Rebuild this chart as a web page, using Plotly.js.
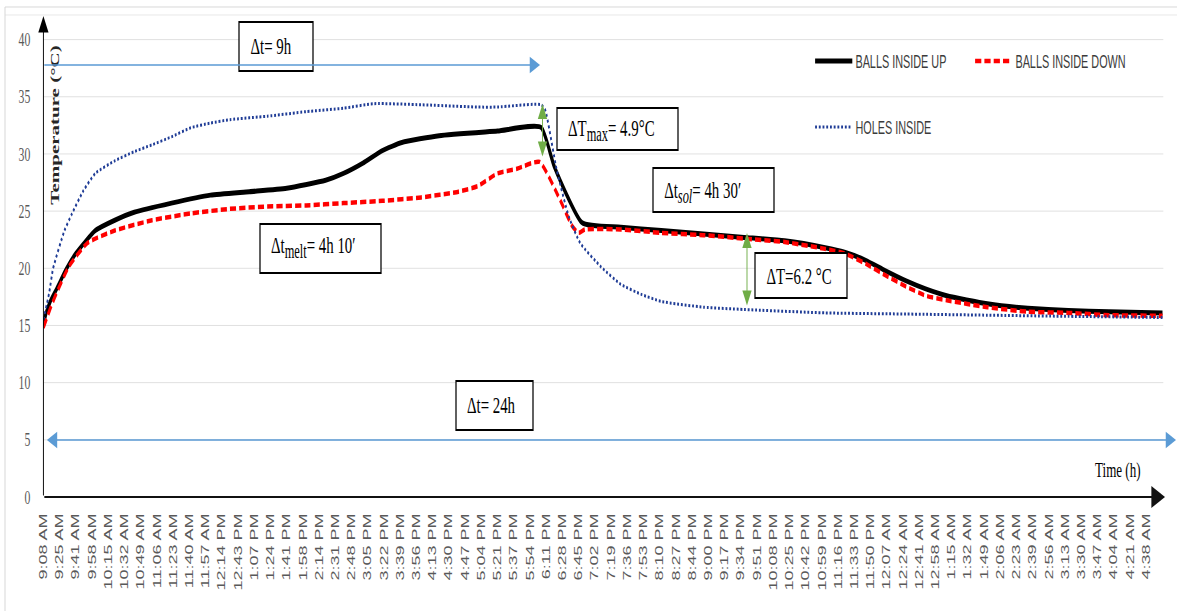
<!DOCTYPE html>
<html>
<head>
<meta charset="utf-8">
<script src="https://cdn.plot.ly/plotly-3.0.1.min.js"></script>
<style>
  html, body { margin: 0; padding: 0; overflow: hidden; background: #fff; }
  #wrap { width: 1177px; height: 611px; overflow: hidden; }
  #chart { width: 1898px; height: 611px; transform: scaleX(0.6201); transform-origin: 0 0; }
</style>
</head>
<body>
<div id="wrap"><div id="chart"></div></div>
<script>
// ---------- data (x = sample position in units of the tick-label spacing) ----------
const timeLabels = ["9:08 AM","9:25 AM","9:41 AM","9:58 AM","10:15 AM","10:32 AM","10:49 AM","11:06 AM","11:23 AM","11:40 AM","11:57 AM","12:14 PM","12:43 PM","1:07 PM","1:24 PM","1:41 PM","1:58 PM","2:14 PM","2:31 PM","2:48 PM","3:05 PM","3:22 PM","3:39 PM","3:56 PM","4:13 PM","4:30 PM","4:47 PM","5:04 PM","5:21 PM","5:37 PM","5:54 PM","6:11 PM","6:28 PM","6:45 PM","7:02 PM","7:19 PM","7:36 PM","7:53 PM","8:10 PM","8:27 PM","8:44 PM","9:00 PM","9:17 PM","9:34 PM","9:51 PM","10:08 PM","10:25 PM","10:42 PM","10:59 PM","11:16 PM","11:33 PM","11:50 PM","12:07 AM","12:24 AM","12:41 AM","12:58 AM","1:15 AM","1:32 AM","1:49 AM","2:06 AM","2:23 AM","2:39 AM","2:56 AM","3:13 AM","3:30 AM","3:47 AM","4:04 AM","4:21 AM","4:38 AM"];

const ballsUpX = [0, 0.15, 0.45, 0.85, 1.4, 2.0, 3.2, 4.4, 5.6, 7.9, 10.3, 12.7, 15.0, 17.4, 18.5, 19.7, 20.9, 22.1, 24.4, 28.0, 30.7, 31.5, 33.2, 35.6, 38.1, 40.7, 43.2, 45.7, 48.2, 49.4, 50.7, 51.9, 53.2, 54.4, 55.7, 58.2, 60.7, 63.2, 65.7, 69.0];
const ballsUpT = [15.0, 16.0, 17.2, 18.3, 19.9, 21.3, 23.3, 24.2, 24.9, 25.7, 26.4, 26.7, 27.0, 27.7, 28.3, 29.2, 30.3, 31.0, 31.6, 32.0, 32.3, 28.9, 24.0, 23.6, 23.3, 23.0, 22.7, 22.4, 21.8, 21.4, 20.7, 19.8, 18.9, 18.2, 17.6, 16.9, 16.5, 16.3, 16.2, 16.1];

const ballsDownX = [0, 0.4, 0.8, 1.55, 2.7, 4.4, 6.7, 9.1, 11.5, 13.8, 16.2, 18.5, 20.9, 23.3, 25.6, 26.8, 28.0, 29.2, 30.6, 31.85, 32.6, 33.0, 33.4, 35.6, 38.1, 40.7, 43.2, 45.7, 48.2, 49.4, 50.7, 51.9, 53.2, 54.4, 55.7, 58.2, 60.7, 63.2, 65.7, 69.0];
const ballsDownT = [14.8, 16.4, 17.8, 20.1, 22.2, 23.3, 24.2, 24.8, 25.2, 25.4, 25.5, 25.7, 25.9, 26.2, 26.7, 27.2, 28.3, 28.7, 29.3, 26.0, 23.7, 23.1, 23.4, 23.4, 23.1, 22.9, 22.6, 22.3, 21.7, 21.3, 20.4, 19.4, 18.4, 17.6, 17.2, 16.6, 16.2, 16.1, 15.9, 15.85];

const holesX = [0, 0.35, 0.6, 1.3, 1.77, 2.47, 3.2, 4.4, 5.6, 6.7, 7.9, 9.1, 10.3, 11.5, 13.8, 16.2, 18.5, 20.4, 23.3, 26.8, 28.0, 30.7, 30.95, 31.65, 32.4, 33.1, 34.4, 35.6, 36.9, 38.1, 40.7, 43.2, 48.2, 53.2, 58.2, 63.2, 69.0];
const holesT = [15.5, 17.8, 20.0, 23.3, 24.8, 26.8, 28.3, 29.4, 30.2, 30.8, 31.5, 32.3, 32.7, 33.0, 33.3, 33.7, 34.0, 34.4, 34.3, 34.1, 34.1, 34.3, 33.8, 28.6, 24.5, 22.2, 20.1, 18.6, 17.7, 17.1, 16.6, 16.4, 16.1, 16.0, 15.9, 15.8, 15.7];

const seriesNames = ["BALLS INSIDE UP", "BALLS INSIDE DOWN", "HOLES INSIDE"];
const tickPositions = timeLabels.map((_, k) => k);

// ---------- geometry helpers (page pixels -> paper coords) ----------
const S = 0.6201, W = 1898, H = 611, ML = 70, MR = 22, MT = 16, MB = 114;
const PW = W - ML - MR, PH = H - MT - MB;
const px = x => (x / S - ML) / PW;
const py = y => (H - MB - y) / PH;

const serif = "Liberation Serif, Times New Roman, serif";
const sans = "Liberation Sans, Arial, sans-serif";

const traces = [
  { x: ballsUpX, y: ballsUpT, name: seriesNames[0], mode: "lines", legend: "legend",
    line: { color: "#000000", width: 5, shape: "spline", smoothing: 0.5 } },
  { x: ballsDownX, y: ballsDownT, name: seriesNames[1], mode: "lines", legend: "legend2",
    line: { color: "#ff0000", width: 4.5, dash: "10px,5px", shape: "spline", smoothing: 0.5 } },
  { x: holesX, y: holesT, name: seriesNames[2], mode: "lines", legend: "legend3",
    line: { color: "#1f3c96", width: 3, dash: "dot", shape: "spline", smoothing: 0.5 } }
];

function box(x0, y0, x1, y1) {
  return { type: "rect", xref: "paper", yref: "paper", x0: px(x0), x1: px(x1), y0: py(y1), y1: py(y0),
           line: { color: "#000", width: 2 }, fillcolor: "#fff", layer: "above" };
}
function hline(x0, x1, y, color) {
  return { type: "line", xref: "paper", yref: "paper", x0: px(x0), x1: px(x1), y0: py(y), y1: py(y),
           line: { color: color, width: 1 }, layer: "above" };
}
function label(text, x, y) {
  return { text: text, xref: "paper", yref: "paper", x: px(x), y: py(y), xanchor: "left", yanchor: "middle",
           showarrow: false, font: { family: serif, size: 24, color: "#000" } };
}
function sub(t) { return "<sub><span style='font-size:20px'>" + t + "</span></sub>"; }
function legendAt(x, y) {
  return { x: px(x), y: py(y), xanchor: "left", yanchor: "middle", bgcolor: "rgba(0,0,0,0)",
           font: { family: sans, size: 17.5, color: "#3b3b3b" }, itemwidth: 60, borderwidth: 0 };
}

const shapes = [
  // outer frame of the picture
  hline(5, 1177, 7, "#cfcfcf"),
  hline(5, 1177, 15, "#e3e3e3"),
  { type: "line", xref: "paper", yref: "paper", x0: px(5), x1: px(5), y0: py(611), y1: py(7),
    line: { color: "#d4d4d4", width: 1.5 }, layer: "above" },
  // white box behind the axis title (hides grid start)
  { type: "rect", xref: "paper", yref: "paper", x0: px(44), x1: px(69), y0: py(290), y1: py(17),
    line: { width: 0 }, fillcolor: "#fff", layer: "between" },
  box(239, 22, 313, 71),
  box(557, 108, 678, 150),
  box(653, 168, 774, 212),
  box(260, 224, 381, 273),
  box(755, 253, 847, 298),
  box(456, 381, 533, 430)
];

const blue = "#5b9bd5", green = "#70ad47";
const annotations = [
  label("Δt= 9h", 249, 46),
  label("ΔT" + sub("max") + "= 4.9°C", 567, 130),
  label("Δt" + sub("<i>sol</i>") + "= 4h 30′", 663, 192),
  label("Δt" + sub("melt") + "= 4h 10′", 270, 247),
  label("ΔT=6.2 °C", 765, 276),
  label("Δt= 24h", 466, 405),
  // axis titles
  { text: "<b>Temperature (°C)</b>", textangle: -90, xref: "paper", yref: "paper", x: px(55), y: py(125),
    xanchor: "center", yanchor: "middle", showarrow: false, font: { family: serif, size: 21, color: "#262626" } },
  { text: "Time (h)", xref: "paper", yref: "paper", x: px(1118), y: py(470), xanchor: "center", yanchor: "middle",
    showarrow: false, font: { family: serif, size: 21, color: "#000" } },
  // axes with arrow heads
  { text: "", xref: "paper", yref: "paper", x: 0, y: 1, axref: "pixel", ayref: "pixel", ax: 0, ay: PH,
    showarrow: true, arrowhead: 2, arrowsize: 2.2, arrowwidth: 1.5, arrowcolor: "#000" },
  { text: "", xref: "paper", yref: "paper", x: px(1165), y: 0, axref: "pixel", ayref: "pixel",
    ax: -(1165 - 43.4) / S, ay: 0, showarrow: true, arrowhead: 2, arrowsize: 2.2, arrowwidth: 2, arrowcolor: "#111" },
  // Δt = 9h arrow
  { text: "", xref: "paper", yref: "paper", x: px(540), y: py(65), axref: "pixel", ayref: "pixel",
    ax: -(540 - 43.4) / S, ay: 0, showarrow: true, arrowhead: 2, arrowsize: 2.2, arrowwidth: 1.5, arrowcolor: blue },
  // Δt = 24h double arrow
  { text: "", xref: "paper", yref: "paper", x: px(1176), y: py(440), axref: "pixel", ayref: "pixel",
    ax: -(1176 - 46) / S, ay: 0, showarrow: true, arrowside: "end+start", arrowhead: 2, arrowsize: 2.2,
    arrowwidth: 1.5, arrowcolor: blue },
  // ΔTmax double arrow
  { text: "", xref: "paper", yref: "paper", x: px(542.5), y: py(104), axref: "pixel", ayref: "pixel",
    ax: 0, ay: 54, showarrow: true, arrowside: "end+start", arrowhead: 2, arrowsize: 2, arrowwidth: 1.5, arrowcolor: green },
  // ΔT = 6.2 double arrow
  { text: "", xref: "paper", yref: "paper", x: px(747), y: py(233), axref: "pixel", ayref: "pixel",
    ax: 0, ay: 74, showarrow: true, arrowside: "end+start", arrowhead: 2, arrowsize: 2, arrowwidth: 1.5, arrowcolor: green }
];

const layout = {
  width: W, height: H,
  margin: { l: ML, r: MR, t: MT, b: MB, pad: 0 },
  paper_bgcolor: "#fff", plot_bgcolor: "#fff",
  showlegend: true,
  legend: legendAt(812, 61),
  legend2: legendAt(972, 61),
  legend3: legendAt(812, 127),
  xaxis: {
    range: [0, 69.05], tickmode: "array", tickvals: tickPositions, ticktext: timeLabels,
    tickangle: -90, showgrid: false, zeroline: false, showline: false, ticks: "",
    ticklabelstandoff: 12, tickfont: { family: sans, size: 18, color: "#595959" }
  },
  yaxis: {
    range: [0, PH / 11.435], dtick: 5, tick0: 0, showgrid: true, gridcolor: "#d9d9d9", gridwidth: 1,
    zeroline: false, showline: false, ticks: "", ticklabelstandoff: 20,
    tickfont: { family: serif, size: 19, color: "#595959" }
  },
  shapes: shapes,
  annotations: annotations
};

Plotly.newPlot("chart", traces, layout, { staticPlot: true, displayModeBar: false });
</script>
</body>
</html>
